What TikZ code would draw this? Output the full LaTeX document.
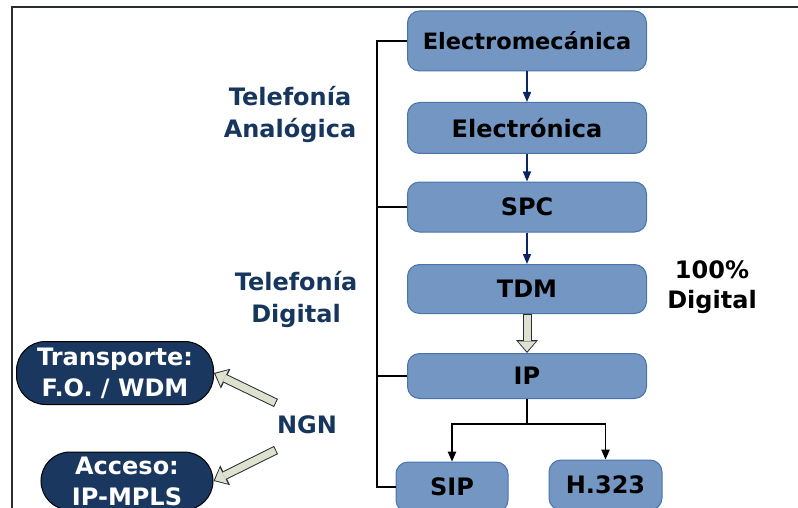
\documentclass[tikz,border=0pt]{standalone}
\usepackage{fontspec}
\setmainfont{DejaVu Sans}
\usepackage{tikz}
\usetikzlibrary{arrows.meta}

\definecolor{cajaazul}{RGB}{115,150,194}
\definecolor{bordeazul}{RGB}{74,116,172}
\definecolor{textoazul}{RGB}{23,54,93}
\definecolor{pastillaazul}{RGB}{25,55,95}
\definecolor{flechaazul}{RGB}{10,36,100}
\definecolor{verdoso}{RGB}{221,226,207}
\definecolor{oscuro}{RGB}{40,45,50}

\begin{document}
\begin{tikzpicture}[x=1pt,y=-1pt,
	caja/.style={draw=bordeazul, line width=1pt, fill=cajaazul, rounded corners=12pt, inner sep=0pt,
		minimum height=50pt, font=\fontsize{24}{31}\selectfont\bfseries},
	pastilla/.style={draw=black, line width=1pt, fill=pastillaazul, text=white, rounded corners=29pt,
		inner sep=0pt, align=center, font=\fontsize{24}{31}\selectfont\bfseries},
	etiqueta/.style={text=textoazul, align=center, font=\fontsize{24}{32}\selectfont\bfseries},
	flecha/.style={draw=flechaazul, line width=1.4pt, -{Triangle[length=10pt,width=8pt]}},
	negra/.style={draw=black, line width=1.2pt, -{Triangle[length=10pt,width=8.5pt]}},
	linea/.style={draw=black, line width=1.2pt},
	gorda/.style={draw=verdoso, line width=7pt, shorten >=1.6pt, shorten <=1pt,
		-{Triangle[length=10pt,width=17.5pt,line width=0pt]},
		preaction={draw=oscuro, line width=9pt, shorten >=0pt, shorten <=0pt,
			-{Triangle[length=13pt,width=22pt,line width=0pt]}}}]
	\clip (0,0) rectangle (798,508);
	\draw[draw=oscuro, line width=1.5pt] (12,508) -- (12,7) -- (798,7);

	\node[caja, minimum width=239pt, minimum height=60pt, font=\fontsize{22.5}{30}\selectfont\bfseries] (emec) at (527,41) {Electromecánica};
	\node[caja, minimum width=239pt, minimum height=51pt] (elec) at (527,128) {Electrónica};
	\node[caja, minimum width=239pt] (spc) at (527,207) {SPC};
	\node[caja, minimum width=239pt, minimum height=49pt] (tdm) at (527,289) {TDM};
	\node[caja, minimum width=239pt, minimum height=45pt] (ip) at (527,376) {IP};
	\node[caja, minimum width=112pt] (sip) at (452,487) {SIP};
	\node[caja, minimum width=113pt] (h323) at (605.5,485) {H.323};

	\node[etiqueta] (analog) at (290,114) {Telefonía\\Analógica};
	\node[etiqueta] (digit) at (296,299) {Telefonía\\Digital};
	\node[etiqueta, text=black, font=\fontsize{24}{30}\selectfont\bfseries] (cien) at (712,287) {100\%\\Digital};
	\node[etiqueta] (ngn) at (307,425) {NGN};

	\node[pastilla, minimum width=197pt, minimum height=63pt] (transp) at (115,373) {Transporte:\\F.O. / WDM};
	\node[pastilla, minimum width=172pt, minimum height=58pt] (acceso) at (127,481) {Acceso:\\IP-MPLS};

	% evolucion
	\draw[flecha] (emec) -- (elec);
	\draw[flecha] (elec) -- (spc);
	\draw[flecha] (spc) -- (tdm);
	\draw[gorda] (tdm) -- (ip);
	\coordinate (rama) at (527,424);
	\draw[negra] (ip.south) -- (rama) -| (sip.north);
	\draw[negra] (rama) -| (h323.north);

	% corchete
	\coordinate (corchete) at (377,41);
	\draw[linea] (emec.west) -- (corchete) |- (sip.west);
	\draw[linea] (spc.west) -- (spc.west -| corchete);
	\draw[linea] (ip.west) -- (ip.west -| corchete);

	% NGN
	\coordinate (ngnA) at (276,403);
	\coordinate (ngnB) at (276,450);
	\draw[gorda] (ngnA) -- (transp.east);
	\draw[gorda] (ngnB) -- (acceso.east);
\end{tikzpicture}
\end{document}
